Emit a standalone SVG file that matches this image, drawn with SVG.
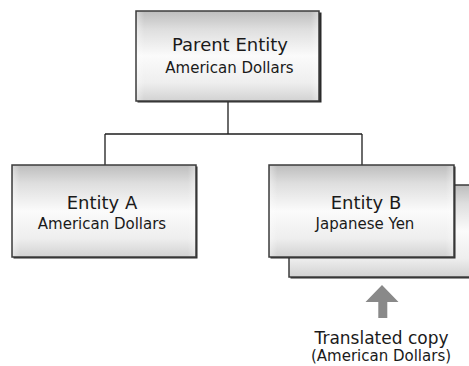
<svg xmlns="http://www.w3.org/2000/svg" width="469" height="366" viewBox="0 0 469 366">
<defs>
<linearGradient id="g" x1="0" y1="0" x2="0" y2="1">
<stop offset="0" stop-color="#bdbdbd"/>
<stop offset="0.2" stop-color="#dedede"/>
<stop offset="0.5" stop-color="#fbfbfb"/>
<stop offset="0.8" stop-color="#eeeeee"/>
<stop offset="1" stop-color="#d2d2d2"/>
</linearGradient>
<linearGradient id="h" x1="0" y1="0" x2="1" y2="0">
<stop offset="0" stop-color="#ffffff" stop-opacity="0.35"/>
<stop offset="0.04" stop-color="#ffffff" stop-opacity="0"/>
<stop offset="0.96" stop-color="#ffffff" stop-opacity="0"/>
<stop offset="1" stop-color="#ffffff" stop-opacity="0.35"/>
</linearGradient>
</defs>
<style>
.shadow{fill:#2a2a2a}
.box{fill:url(#g);stroke:#3c3c3c;stroke-width:1.5}
.hl{fill:url(#h)}
.t1{font-family:"DejaVu Sans",Verdana,sans-serif;font-size:18px;fill:#1a1a1a;text-anchor:middle}
.t2{font-family:"DejaVu Sans",Verdana,sans-serif;font-size:15px;fill:#1a1a1a;text-anchor:middle}
.conn{stroke:#1e1e1e;stroke-width:1.3;fill:none}
</style>
<g id="connectors">
<path class="conn" d="M228,101 V134 M105,134 H362 M105,134 V165 M362,134 V165"/>
</g>
<g id="parent">
<rect class="shadow" x="137.5" y="12.5" width="184" height="90"/>
<rect class="box" x="136" y="11" width="183" height="90"/>
<rect class="hl" x="137" y="12" width="181" height="88"/>
<text class="t1" x="230" y="51">Parent Entity</text>
<text class="t2" x="229.5" y="73">American Dollars</text>
</g>
<g id="entityA">
<rect class="shadow" x="13.5" y="166.5" width="184" height="92"/>
<rect class="box" x="12" y="165" width="184" height="92"/>
<rect class="hl" x="13" y="166" width="182" height="90"/>
<text class="t1" x="102" y="209">Entity A</text>
<text class="t2" x="102" y="228.5">American Dollars</text>
</g>
<g id="translatedCopy">
<rect class="shadow" x="290.5" y="186.5" width="190" height="92"/>
<rect class="box" x="289" y="185" width="190" height="92"/>
</g>
<g id="entityB">
<rect class="shadow" x="270.5" y="166.5" width="185" height="92"/>
<rect class="box" x="269" y="165" width="185" height="92"/>
<rect class="hl" x="270" y="166" width="183" height="90"/>
<text class="t1" x="366" y="208.5">Entity B</text>
<text class="t2" x="365" y="228.5">Japanese Yen</text>
</g>
<g id="arrow">
<polygon points="382,285 398.5,302 387.3,302 387.3,318 378.3,318 378.3,302 365.5,302" fill="#898989"/>
</g>
<g id="label">
<text class="t1" x="381.5" y="343.5" style="font-size:17px">Translated copy</text>
<text class="t2" x="381" y="360.5">(American Dollars)</text>
</g>
</svg>
